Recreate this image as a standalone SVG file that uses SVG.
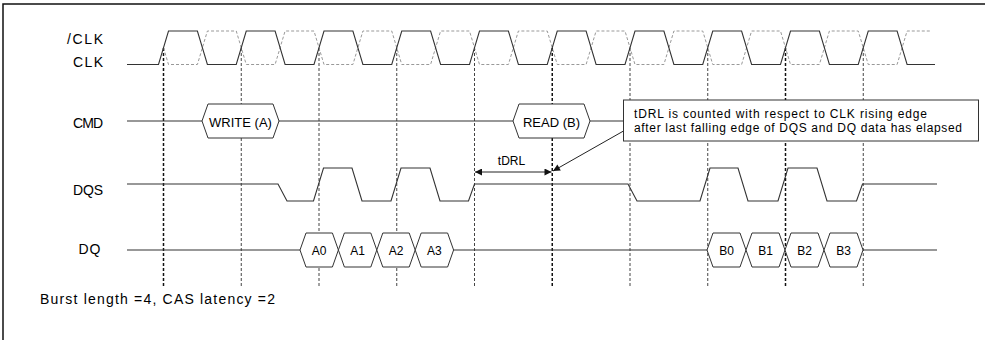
<svg xmlns="http://www.w3.org/2000/svg" width="990" height="340" viewBox="0 0 990 340">
<style>
text{font-family:"Liberation Sans",Arial,sans-serif;fill:#000;}
.lbl{font-size:14px;text-anchor:end;}
.box{fill:#fff;stroke:#333;stroke-width:1;}
.bt{font-size:13px;text-anchor:middle;}
.dt{font-size:12px;text-anchor:middle;}
.sig{fill:none;stroke:#333;stroke-width:1.1;}
.nclk{fill:none;stroke:#999;stroke-width:1;stroke-dasharray:3 2;}
.vl{stroke:#444;stroke-width:1;stroke-dasharray:3 2;fill:none;}
.vb{stroke:#111;stroke-width:1.5;stroke-dasharray:3 2;fill:none;}
.ar{stroke:#222;stroke-width:1;fill:none;}
.frame{stroke:#111;stroke-width:1.5;fill:none;}
</style>
<defs>
<marker id="ah" viewBox="0 0 10 10" refX="10" refY="5" markerWidth="9" markerHeight="7" markerUnits="userSpaceOnUse" orient="auto-start-reverse">
<path d="M0,0 L10,5 L0,10 Z" fill="#111"/>
</marker>
</defs>
<path class="frame" d="M3,340 V4 H985"/>

<g id="connectors">
<line class="vb" x1="163.5" y1="48" x2="163.5" y2="288"/>
<line class="vl" x1="241.25" y1="48" x2="241.25" y2="288"/>
<line class="vl" x1="319" y1="48" x2="319" y2="288"/>
<line class="vl" x1="396.75" y1="48" x2="396.75" y2="288"/>
<line class="vl" x1="474.5" y1="48" x2="474.5" y2="288"/>
<line class="vb" x1="552.25" y1="48" x2="552.25" y2="288"/>
<line class="vl" x1="630" y1="48" x2="630" y2="288"/>
<line class="vl" x1="707.75" y1="48" x2="707.75" y2="288"/>
<line class="vb" x1="785.5" y1="48" x2="785.5" y2="288"/>
<line class="vl" x1="863.25" y1="48" x2="863.25" y2="288"/>
<line class="ar" x1="623.5" y1="131" x2="553" y2="171" marker-end="url(#ah)"/>
<line class="ar" x1="475" y1="172" x2="551.5" y2="172" marker-start="url(#ah)" marker-end="url(#ah)"/>
</g>

<g id="clk">
<text class="lbl" x="103" y="43.5" textLength="36">/CLK</text>
<text class="lbl" x="103" y="66.5" textLength="30">CLK</text>
<path class="nclk" d="M163.5,47.75 L168.5,64.5 H197.4 L207.4,31 H236.25 L246.25,64.5 H275.1 L285.1,31 H314 L324,64.5 H352.9 L362.9,31 H391.75 L401.75,64.5 H430.6 L440.6,31 H469.5 L479.5,64.5 H508.4 L518.4,31 H547.25 L557.25,64.5 H586.1 L596.1,31 H625 L635,64.5 H663.9 L673.9,31 H702.75 L712.75,64.5 H741.6 L751.6,31 H780.5 L790.5,64.5 H819.4 L829.4,31 H858.25 L868.25,64.5 H897.1 L907.1,31 H930"/>
<path class="sig" d="M127,64.5 H158.5 L168.5,31 H197.4 L207.4,64.5 H236.25 L246.25,31 H275.1 L285.1,64.5 H314 L324,31 H352.9 L362.9,64.5 H391.75 L401.75,31 H430.6 L440.6,64.5 H469.5 L479.5,31 H508.4 L518.4,64.5 H547.25 L557.25,31 H586.1 L596.1,64.5 H625 L635,31 H663.9 L673.9,64.5 H702.75 L712.75,31 H741.6 L751.6,64.5 H780.5 L790.5,31 H819.4 L829.4,64.5 H858.25 L868.25,31 H897.1 L907.1,64.5 H935"/>
</g>

<g id="cmd">
<text class="lbl" x="103" y="127.5" textLength="30">CMD</text>
<path class="sig" d="M127,121 H202 M279,121 H513 M590,121 H623.5"/>
</g>
<g id="write-a">
<polygon class="box" points="202,121 208,104 273,104 279,121 273,138 208,138"/>
<text class="bt" x="240.5" y="126.5">WRITE (A)</text>
</g>
<g id="read-b">
<polygon class="box" points="513,121 519,104 584,104 590,121 584,138 519,138"/>
<text class="bt" x="551.5" y="126.5">READ (B)</text>
</g>

<g id="note">
<rect class="box" x="623.5" y="100" width="355" height="41"/>
<text x="634" y="118" font-size="12" textLength="293">tDRL is counted with respect to CLK rising edge</text>
<text x="634" y="132" font-size="12" textLength="328">after last falling edge of DQS and DQ data has elapsed</text>
</g>

<g id="tdrl">
<text x="511.5" y="165" font-size="12" text-anchor="middle">tDRL</text>
</g>

<g id="dqs">
<text class="lbl" x="103" y="195" textLength="30">DQS</text>
<path class="sig" d="M127,184 H278 L287,201 H313.5 L323.5,168 H352 L362,201 H391 L401,168 H430 L440,201 H468.5 L474.5,184 H628 L637,201 H700 L710,168 H738 L748,201 H778 L788,168 H817 L827,201 H856.5 L862.5,184 H937"/>
</g>

<g id="dq">
<text class="lbl" x="100.5" y="254" textLength="22">DQ</text>
<path class="sig" d="M127,250 H300 M453.6,250 H707 M863,250 H937"/>
</g>
<g id="a0"><polygon class="box" points="300,250 306,233 332.4,233 338.4,250 332.4,267 306,267"/><text class="dt" x="319.2" y="254.5">A0</text></g>
<g id="a1"><polygon class="box" points="338.4,250 344.4,233 370.8,233 376.8,250 370.8,267 344.4,267"/><text class="dt" x="357.6" y="254.5">A1</text></g>
<g id="a2"><polygon class="box" points="376.8,250 382.8,233 409.2,233 415.2,250 409.2,267 382.8,267"/><text class="dt" x="396" y="254.5">A2</text></g>
<g id="a3"><polygon class="box" points="415.2,250 421.2,233 447.6,233 453.6,250 447.6,267 421.2,267"/><text class="dt" x="434.4" y="254.5">A3</text></g>
<g id="b0"><polygon class="box" points="707,250 713,233 740,233 746,250 740,267 713,267"/><text class="dt" x="726.5" y="254.5">B0</text></g>
<g id="b1"><polygon class="box" points="746,250 752,233 779,233 785,250 779,267 752,267"/><text class="dt" x="765.5" y="254.5">B1</text></g>
<g id="b2"><polygon class="box" points="785,250 791,233 818,233 824,250 818,267 791,267"/><text class="dt" x="804.5" y="254.5">B2</text></g>
<g id="b3"><polygon class="box" points="824,250 830,233 857,233 863,250 857,267 830,267"/><text class="dt" x="843.5" y="254.5">B3</text></g>

<g id="caption">
<text x="40" y="304" font-size="14" textLength="235">Burst length =4, CAS latency =2</text>
</g>
</svg>
